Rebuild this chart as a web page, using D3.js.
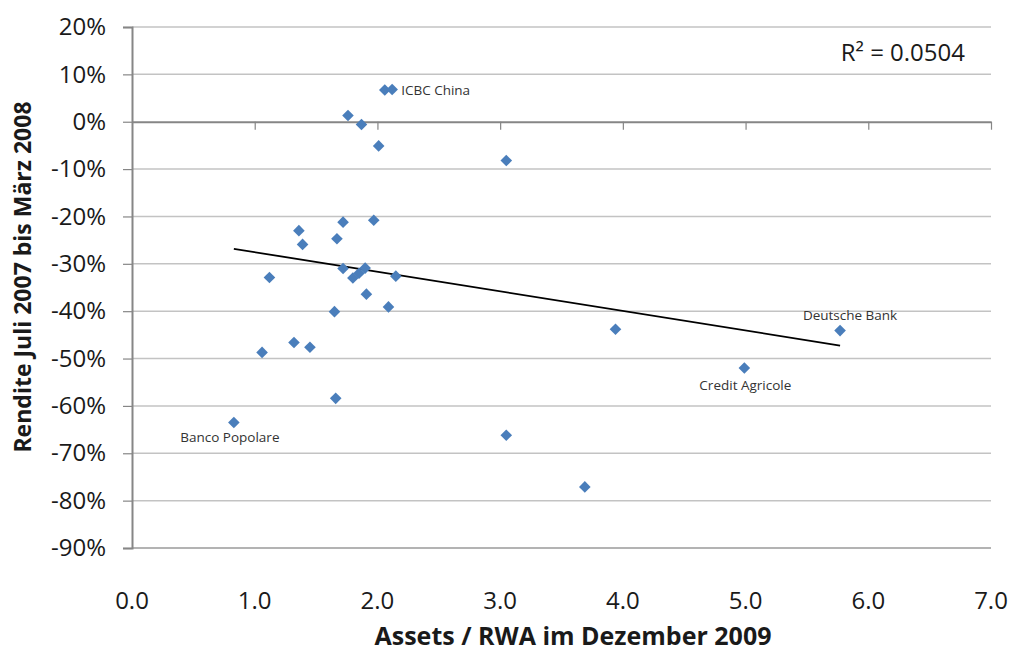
<!DOCTYPE html>
<html>
<head>
<meta charset="utf-8">
<script src="https://cdn.jsdelivr.net/npm/d3@7"></script>
<style>
  body { margin: 0; background: #fff; }
  text { font-family: "Open Sans", "Noto Sans", sans-serif; }
</style>
</head>
<body>
<svg id="chart" width="1011" height="651"></svg>
<script>
// Assets / RWA (Dez 2009) and return Jul 2007 - Mar 2008, one entry per bank
var assetsRwa = [2.06, 2.12, 1.76, 1.87, 2.01, 3.05, 1.72, 1.97, 1.36, 1.39, 1.67,
                 1.12, 1.72, 1.80, 1.85, 1.90, 2.15, 1.91, 2.09, 1.65, 1.32, 1.45,
                 1.06, 1.66, 0.83, 3.05, 3.94, 5.77, 4.99, 3.69];
var returns = [0.067, 0.068, 0.013, -0.006, -0.051, -0.082, -0.212, -0.208, -0.230, -0.259, -0.247,
               -0.329, -0.310, -0.330, -0.320, -0.309, -0.326, -0.364, -0.391, -0.401, -0.466, -0.476,
               -0.487, -0.584, -0.635, -0.662, -0.438, -0.441, -0.520, -0.771];
var bankNames = ["", "ICBC China", "", "", "", "", "", "", "", "", "",
                 "", "", "", "", "", "", "", "", "", "", "",
                 "", "", "Banco Popolare", "", "", "Deutsche Bank", "Credit Agricole", ""];
var xTicks = [0, 1, 2, 3, 4, 5, 6, 7];
var yTicks = [0.2, 0.1, 0, -0.1, -0.2, -0.3, -0.4, -0.5, -0.6, -0.7, -0.8, -0.9];
var rSquaredText = "R\u00B2 = 0.0504";

function drawChart() {
    var svg = d3.select("#chart"),
        plotLeft = 132, plotRight = 991, plotTop = 27, plotBottom = 548;

    var x = d3.scaleLinear().domain([0, 7]).range([plotLeft, plotRight]);
    var y = d3.scaleLinear().domain([-0.9, 0.2]).range([plotBottom, plotTop]);

    // gridlines
    svg.append("g")
        .selectAll("line")
        .data(yTicks.filter(function (d) { return d !== 0 && d !== -0.9; }))
        .join("line")
        .attr("x1", plotLeft).attr("x2", plotRight)
        .attr("y1", function (d) { return y(d); })
        .attr("y2", function (d) { return y(d); })
        .attr("stroke", "#c3c3c3")
        .attr("stroke-width", 1.5);

    // bottom frame line
    svg.append("line")
        .attr("x1", plotLeft).attr("x2", plotRight)
        .attr("y1", y(-0.9)).attr("y2", y(-0.9))
        .attr("stroke", "#9a9a9a").attr("stroke-width", 1.5);

    // y axis, ticks pointing out to the left
    var yAxis = d3.axisLeft(y)
        .tickValues(yTicks)
        .tickSize(9)
        .tickPadding(17)
        .tickFormat(function (d) { return Math.round(d * 100) + "%"; });
    var gy = svg.append("g").attr("transform", "translate(" + plotLeft + ",0)").call(yAxis);
    gy.select(".domain").attr("stroke", "#868686").attr("stroke-width", 2);
    gy.selectAll(".tick line").attr("stroke", "#868686").attr("stroke-width", 1.2);
    gy.selectAll(".tick text")
        .attr("font-size", 24)
        .attr("fill", "#1a1a1a")
        .style("font-family", "'Open Sans', 'Noto Sans', sans-serif");

    // x axis crosses at 0%, labels sit at the bottom
    var xAxis = d3.axisBottom(x)
        .tickValues(xTicks.filter(function (d) { return d > 0; }))
        .tickSize(8)
        .tickSizeOuter(0)
        .tickFormat("");
    var gx = svg.append("g").attr("transform", "translate(0," + y(0) + ")").call(xAxis);
    gx.select(".domain").attr("stroke", "#868686").attr("stroke-width", 2);
    gx.selectAll(".tick line").attr("stroke", "#868686").attr("stroke-width", 1.2);

    svg.append("g")
        .selectAll("text")
        .data(xTicks)
        .join("text")
        .attr("x", function (d) { return x(d); })
        .attr("y", 609)
        .attr("text-anchor", "middle")
        .attr("font-size", 24)
        .attr("fill", "#1a1a1a")
        .text(d3.format(".1f"));

    // linear trend (least squares)
    var mx = d3.mean(assetsRwa), my = d3.mean(returns);
    var sxy = d3.sum(assetsRwa, function (v, i) { return (v - mx) * (returns[i] - my); });
    var sxx = d3.sum(assetsRwa, function (v) { return (v - mx) * (v - mx); });
    var slope = sxy / sxx, icpt = my - slope * mx;
    svg.append("path")
        .datum(d3.extent(assetsRwa))
        .attr("d", d3.line()
            .x(function (d) { return x(d); })
            .y(function (d) { return y(icpt + slope * d); }))
        .attr("stroke", "#000")
        .attr("stroke-width", 1.8)
        .attr("fill", "none");

    // points
    svg.append("g")
        .selectAll("path")
        .data(assetsRwa)
        .join("path")
        .attr("d", "M0,-5.8L5.8,0L0,5.8L-5.8,0Z")
        .attr("transform", function (d, i) { return "translate(" + x(d) + "," + y(returns[i]) + ")"; })
        .attr("fill", "#4a7ebb");

    // data labels
    var labelPlace = {
        "ICBC China": { dx: 9, dy: 5, anchor: "start" },
        "Banco Popolare": { dx: -4, dy: 20, anchor: "middle" },
        "Deutsche Bank": { dx: 10, dy: -11, anchor: "middle" },
        "Credit Agricole": { dx: 1, dy: 22, anchor: "middle" }
    };
    svg.append("g")
        .selectAll("text")
        .data(bankNames.map(function (n, i) { return { name: n, i: i }; })
            .filter(function (d) { return d.name !== ""; }))
        .join("text")
        .attr("x", function (d) { return x(assetsRwa[d.i]) + labelPlace[d.name].dx; })
        .attr("y", function (d) { return y(returns[d.i]) + labelPlace[d.name].dy; })
        .attr("text-anchor", function (d) { return labelPlace[d.name].anchor; })
        .attr("font-size", 13.5)
        .attr("fill", "#333")
        .text(function (d) { return d.name; });

    // R squared
    svg.append("text")
        .attr("x", 965).attr("y", 61)
        .attr("text-anchor", "end")
        .attr("font-size", 24)
        .attr("fill", "#1a1a1a")
        .text(rSquaredText);

    // axis titles
    svg.append("text")
        .attr("x", 573).attr("y", 645)
        .attr("text-anchor", "middle")
        .attr("font-size", 25)
        .attr("font-weight", "bold")
        .attr("fill", "#1a1a1a")
        .text("Assets / RWA im Dezember 2009");

    svg.append("text")
        .attr("transform", "translate(31,277) rotate(-90)")
        .attr("text-anchor", "middle")
        .attr("font-size", 23)
        .attr("font-weight", "bold")
        .attr("fill", "#1a1a1a")
        .text("Rendite Juli 2007 bis M\u00E4rz 2008");
}

drawChart();
</script>
</body>
</html>
